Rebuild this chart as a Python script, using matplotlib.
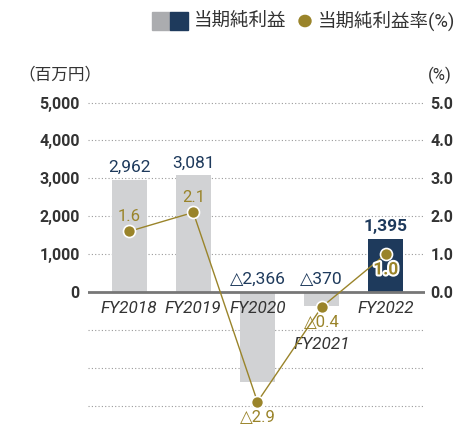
import matplotlib
matplotlib.use("Agg")
import matplotlib.pyplot as plt
import matplotlib.patheffects as pe
from matplotlib.patches import Rectangle, Circle

plt.rcParams["font.family"] = ["Roboto", "Noto Sans CJK JP", "DejaVu Sans"]

years = ["FY2018", "FY2019", "FY2020", "FY2021", "FY2022"]
net_income = [2962, 3081, -2366, -370, 1395]
net_margin = [1.6, 2.1, -2.9, -0.4, 1.0]
left_ticks = [0, 1000, 2000, 3000, 4000, 5000]
right_ticks = [0.0, 1.0, 2.0, 3.0, 4.0, 5.0]
grid_levels = [-3000, -2000, -1000, 1000, 2000, 3000, 4000, 5000]

GRAY = "#d1d2d4"
NAVY = "#1e3a5c"
GOLD = "#9a842a"
TEXT = "#333333"
JP = ["Noto Sans CJK JP", "DejaVu Sans"]
MIX = ["Roboto", "Noto Sans CJK JP", "DejaVu Sans"]


def fmt_yen(v):
    return f"{v:,}" if v >= 0 else f"△{-v:,}"


def fmt_pct(v):
    return f"{v:.1f}" if v >= 0 else f"△{-v:.1f}"


fig = plt.figure(figsize=(4.54, 4.24), dpi=100)
ax = fig.add_axes([88 / 454, 0.0255, 337 / 454, 0.7504])
ax2 = ax.twinx()

x = list(range(len(years)))
colors = [GRAY] * (len(years) - 1) + [NAVY]
ax.bar(x, net_income, width=0.545, color=colors, zorder=2)

for lv in grid_levels:
    ax.axhline(lv, color="#9a9a9a", lw=0.8, ls=(0, (1, 2)), zorder=1)
ax.axhline(0, color="#777777", lw=2, zorder=3)

ax.set_xlim(-0.64, 4.61)
ax.set_ylim(-3200, 5200)
ax2.set_ylim(-3.2, 5.2)

for a in (ax, ax2):
    for s in a.spines.values():
        s.set_visible(False)
    a.set_xticks([])

ax.set_yticks(left_ticks)
ax.set_yticklabels([f"{t:,}" for t in left_ticks])
ax.tick_params(axis="y", length=0, pad=6, labelsize=11.5, labelcolor=TEXT)
ax2.set_yticks(right_ticks)
ax2.set_yticklabels([f"{t:.1f}" for t in right_ticks])
ax2.tick_params(axis="y", length=0, pad=4, labelsize=11.5, labelcolor=TEXT)
for lab in ax.get_yticklabels() + ax2.get_yticklabels():
    lab.set_fontweight("bold")

# bar value labels
for i, v in enumerate(net_income):
    last = i == len(years) - 1
    y = v + 130 if v > 0 else 130
    ax.text(i, y, fmt_yen(v), ha="center", va="bottom", color=NAVY,
            fontsize=12.5, fontweight="bold" if last else "normal",
            family=["Roboto", "DejaVu Sans"], zorder=5)

# category labels (FY2021 sits under its short bar and the % label)
for i, (name, v) in enumerate(zip(years, net_income)):
    y = -1180 if -1000 < v < 0 else -230
    ax.text(i, y, name, ha="center", va="top", color=TEXT, fontsize=12.3,
            style="italic", zorder=5)

# margin line
ax2.plot(x, net_margin, color=GOLD, lw=1, zorder=4)
ax2.scatter(x, net_margin, s=75, color=GOLD, edgecolor="white",
            linewidth=1.2, zorder=5)
for i, v in enumerate(net_margin):
    last = i == len(years) - 1
    if v > 0 and not last:
        ax2.text(i, v + 0.2, fmt_pct(v), ha="center", va="bottom",
                 color=GOLD, fontsize=12, zorder=6)
    elif last:
        ax2.text(i, v - 0.22, fmt_pct(v), ha="center", va="top",
                 color=GOLD, fontsize=12.5, fontweight="bold", zorder=6,
                 path_effects=[pe.withStroke(linewidth=3, foreground="white")])
    else:
        ax2.text(i, v - 0.22, fmt_pct(v), ha="center", va="top",
                 color=GOLD, fontsize=12, zorder=6,
                 family=["Roboto", "DejaVu Sans"])

# unit labels
fig.text(18 / 454, 1 - 75 / 424, "（百万円）", ha="left", va="center",
         fontsize=12, color=TEXT, family=JP)
fig.text(452 / 454, 1 - 75 / 424, "(%)", ha="right", va="center",
         fontsize=12, color=TEXT, family=MIX)

# legend
fig.patches.append(Rectangle((152 / 454, 1 - 30 / 424), 18 / 454, 18 / 424,
                             transform=fig.transFigure, color="#abacaf"))
fig.patches.append(Rectangle((170 / 454, 1 - 30 / 424), 18 / 454, 18 / 424,
                             transform=fig.transFigure, color=NAVY))
fig.text(194 / 454, 1 - 21 / 424, "当期純利益", ha="left", va="center",
         fontsize=13.3, color=TEXT, family=JP)
fig.patches.append(Circle((305 / 454, 1 - 21 / 424), 6 / 454,
                          transform=fig.transFigure, color=GOLD))
fig.text(318 / 454, 1 - 21 / 424, "当期純利益率(%)", ha="left", va="center",
         fontsize=13.3, color=TEXT, family=MIX)

fig.savefig("out.png", dpi=100)
